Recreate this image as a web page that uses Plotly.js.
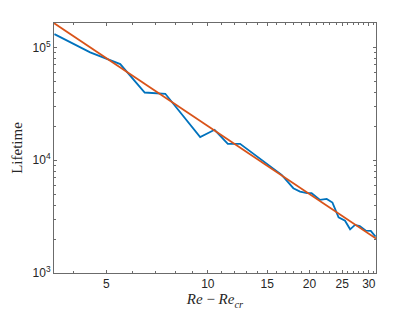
<!DOCTYPE html>
<html>
<head>
<meta charset="utf-8">
<script src="https://cdn.plot.ly/plotly-3.0.1.min.js"></script>
<style>
  html, body { margin: 0; padding: 0; background: #fff; }
  #plot { width: 415px; height: 312px; }
</style>
</head>
<body>
<div id="plot"></div>
<script>
// --- datos ---
const reDiff = [3.51, 4.48, 5.5, 6.5, 7.48, 8.57, 9.49, 10.47, 11.46, 12.46,
                16.0, 16.55, 17.92, 18.76, 19.68, 20.3, 21.5, 22.5, 23.4, 24.4,
                25.5, 26.4, 27.3, 28.2, 29.4, 30.4, 31.4];
const lifetime = [131000, 90200, 71100, 39800, 38800, 23200, 16000, 18600, 13960, 13960,
                  7930, 7410, 5645, 5265, 5095, 5095, 4450, 4540, 4210, 3120,
                  2910, 2440, 2670, 2610, 2370, 2360, 2100];

// ajuste (recta en log-log): extremos
const fitX = [3.5, 31.5];
const fitY = [164000, 2020];

// ticks
const xTickVals = [5, 10, 15, 20, 25, 30];
const xTickText = ['5', '10', '15', '20', '25', '30'];
const xMinorVals = [4, 6, 7, 8, 9, 11, 12, 13, 14, 16, 17, 18, 19, 21, 22, 23, 24, 26, 27, 28, 29, 31];
const yTickVals = [1000, 10000, 100000];
const yTickText = ['10<sup>3</sup>', '10<sup>4</sup>', '10<sup>5</sup>'];
const yMinorVals = [2000, 3000, 4000, 5000, 6000, 7000, 8000, 9000,
                    20000, 30000, 40000, 50000, 60000, 70000, 80000, 90000];

const axisColor = '#6b6b6b';
const sansFont = '"Liberation Sans", Arial, Helvetica, sans-serif';
const serifFont = '"Liberation Serif", "Times New Roman", serif';

const traceData = {
    x: reDiff, y: lifetime, mode: 'lines', type: 'scatter',
    line: { color: '#0072BD', width: 1.8 }, hoverinfo: 'skip'
};
const traceFit = {
    x: fitX, y: fitY, mode: 'lines', type: 'scatter',
    line: { color: '#D95319', width: 1.8 }, hoverinfo: 'skip'
};

const layout = {
    width: 415, height: 312,
    margin: { l: 54, r: 39, t: 23, b: 39 },
    paper_bgcolor: '#fff', plot_bgcolor: '#fff',
    showlegend: false,
    font: { family: sansFont, size: 12, color: '#262626' },
    xaxis: {
        type: 'log',
        range: [Math.log10(3.5), Math.log10(31.5)],
        tickmode: 'array', tickvals: xTickVals, ticktext: xTickText,
        ticks: 'inside', ticklen: 3, tickcolor: axisColor, tickwidth: 1,
        minor: { tickmode: 'array', tickvals: xMinorVals, ticks: 'inside', ticklen: 2, tickcolor: axisColor, showgrid: false },
        showline: true, linecolor: axisColor, linewidth: 1, mirror: 'ticks',
        showgrid: false, zeroline: false,
        tickfont: { family: sansFont, size: 12, color: '#262626' },
        title: { text: '<i>Re</i> − <i>Re</i><sub><i>cr</i></sub>', font: { family: serifFont, size: 15, color: '#262626' }, standoff: 3 }
    },
    yaxis: {
        type: 'log',
        range: [3, 5.216],
        tickmode: 'array', tickvals: yTickVals, ticktext: yTickText,
        ticks: 'inside', ticklen: 3, tickcolor: axisColor, tickwidth: 1,
        minor: { tickmode: 'array', tickvals: yMinorVals, ticks: 'inside', ticklen: 2, tickcolor: axisColor, showgrid: false },
        showline: true, linecolor: axisColor, linewidth: 1, mirror: 'ticks',
        showgrid: false, zeroline: false,
        tickfont: { family: sansFont, size: 12, color: '#262626' },
        title: { text: 'Lifetime', font: { family: serifFont, size: 15, color: '#262626' }, standoff: 6 }
    }
};

Plotly.newPlot('plot', [traceData, traceFit], layout, { staticPlot: true, displayModeBar: false });
</script>
</body>
</html>
